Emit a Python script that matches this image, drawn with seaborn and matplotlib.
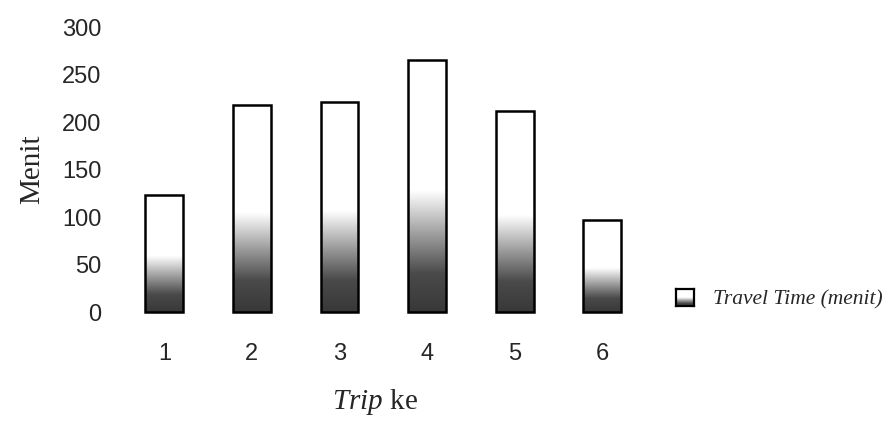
import numpy as np
import pandas as pd
import matplotlib
matplotlib.use("Agg")
import matplotlib.pyplot as plt
import seaborn as sns
from matplotlib.colors import LinearSegmentedColormap

# data
trips = ["1", "2", "3", "4", "5", "6"]
travel_time = [123, 218, 222, 266, 212, 97]
y_ticks = [0, 50, 100, 150, 200, 250, 300]
series_name = "Travel Time (menit)"

sns.set_style("white")
plt.rcParams["font.family"] = ["Liberation Sans", "DejaVu Sans"]
plt.rcParams["mathtext.fontset"] = "custom"
plt.rcParams["mathtext.it"] = "Liberation Serif:italic"
plt.rcParams["mathtext.rm"] = "Liberation Serif"

serif = ["Liberation Serif", "DejaVu Serif"]

df = pd.DataFrame({"trip": trips, "menit": travel_time})

fig = plt.figure(figsize=(8.88, 4.21), dpi=100)
ax = fig.add_axes([110 / 888, 1 - 318 / 421, 530 / 888, 298 / 421])

sns.barplot(data=df, x="trip", y="menit", ax=ax, color="white",
            edgecolor="black", linewidth=1.8, width=0.43, saturation=1)

# dark-at-bottom fade used in the original bars
fade = LinearSegmentedColormap.from_list(
    "fade", [(0.0, "#383838"), (0.15, "#4a4a4a"), (0.3, "#9a9a9a"),
             (0.48, "#ffffff"), (1.0, "#ffffff")])
grad = np.linspace(0, 1, 256).reshape(-1, 1)

for bar in ax.patches:
    x0, y0 = bar.get_x(), bar.get_y()
    w, h = bar.get_width(), bar.get_height()
    im = ax.imshow(grad, cmap=fade, origin="lower", aspect="auto",
                   extent=[x0, x0 + w, y0, y0 + h], zorder=bar.get_zorder())
    im.set_clip_path(bar)
    bar.set_zorder(bar.get_zorder() + 1)
    bar.set_facecolor("none")

ax.set_xlim(-0.62, 5.43)
ax.set_ylim(-6.3, 308)
ax.set_yticks(y_ticks)
ax.tick_params(axis="y", labelsize=17, pad=6, length=0)
ax.tick_params(axis="x", labelsize=17, pad=18, length=0)
sns.despine(ax=ax, left=True, bottom=True)

ax.set_ylabel("Menit", fontsize=21, family=serif, labelpad=12)
ax.set_xlabel(r"$\it{Trip}$ ke", fontsize=21, family=serif, labelpad=16)

# legend: small gradient swatch plus italic serif label
lax = fig.add_axes([676 / 888, 1 - 306 / 421, 18 / 888, 17 / 421])
lax.imshow(grad, cmap=fade, origin="lower", aspect="auto", extent=[0, 1, 0, 1])
lax.set_xticks([])
lax.set_yticks([])
for s in lax.spines.values():
    s.set_linewidth(1.6)
    s.set_color("black")
fig.text(713 / 888, 1 - 300 / 421, series_name, fontsize=15.5, style="italic",
         family=serif, va="center", ha="left")

fig.savefig("out.png", dpi=100)
